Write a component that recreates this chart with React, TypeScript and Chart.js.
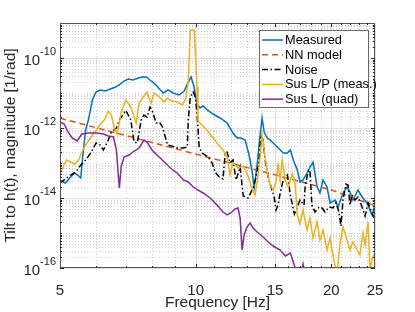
import React, { useEffect, useRef } from 'react';
import { Chart, registerables } from 'chart.js';

Chart.register(...registerables);

const FONT = '"Liberation Sans", Arial, Helvetica, sans-serif';
const AX = '#262626';

// ---- axis ticks ----
const xTickValues = [5, 10, 15, 20, 25];
const yTickValues = [1e-16, 1e-14, 1e-12, 1e-10];

// ---- series ----
const seriesLabels = ['Measured', 'NN model', 'Noise', 'Sus L/P (meas.)', 'Sus L (quad)'];

const measuredFreq = [5.00, 5.08, 5.14, 5.28, 5.39, 5.50, 5.56, 5.62, 5.70, 5.78, 5.90, 6.01, 6.14, 6.30, 6.47, 6.64, 6.81, 6.94, 7.08, 7.27, 7.46, 7.62, 7.77, 7.92, 8.13, 8.35, 8.48, 8.69, 8.91, 9.19, 9.43, 9.63, 9.77, 9.92, 10.07, 10.23, 10.39, 10.61, 10.93, 11.33, 11.74, 12.10, 12.36, 12.61, 12.87, 13.14, 13.35, 13.48, 13.69, 13.90, 14.04, 14.19, 14.41, 14.63, 15.17, 15.64, 15.98, 16.22, 16.47, 16.81, 17.04, 17.31, 17.66, 17.93, 18.22, 18.60, 18.87, 19.17, 19.57, 19.87, 20.39, 20.70, 21.23, 21.67, 22.00, 22.33, 22.92, 23.41, 24.00, 24.62, 25.00];
const measuredVal = [3.27e-14, 2.87e-14, 2.68e-14, 3.98e-14, 5.18e-14, 4.25e-14, 3.73e-14, 1.69e-13, 8.77e-13, 1.69e-12, 6.31e-12, 1.07e-11, 1.22e-11, 1.14e-11, 1.30e-11, 1.48e-11, 1.81e-11, 2.20e-11, 2.51e-11, 2.35e-11, 2.68e-11, 2.87e-11, 2.87e-11, 2.35e-11, 1.81e-11, 1.22e-11, 1.0e-11, 1.22e-11, 1.0e-11, 8.77e-12, 1.14e-11, 2.06e-11, 2.87e-11, 1.48e-11, 4.85e-12, 3.73e-12, 4.25e-12, 3.27e-12, 2.51e-12, 1.93e-12, 1.39e-12, 7.20e-13, 5.18e-13, 5.18e-13, 4.54e-13, 1.69e-13, 5.53e-14, 1.93e-14, 8.77e-14, 6.31e-13, 1.93e-12, 7.69e-13, 5.18e-13, 4.54e-13, 2.87e-13, 1.93e-13, 1.93e-13, 2.35e-13, 1.22e-13, 6.31e-14, 2.87e-14, 3.27e-14, 5.18e-14, 7.69e-14, 1.07e-13, 2.06e-14, 1.39e-14, 3.27e-14, 2.06e-14, 7.20e-15, 8.77e-15, 5.53e-15, 1.39e-14, 2.06e-14, 1.48e-14, 8.77e-15, 1.69e-14, 1.07e-14, 7.20e-15, 3.27e-15, 6.31e-15];

const nnFreq = [5, 7, 10, 15, 20, 25];
const nnVal = [1.9e-12, 6.1e-13, 1.8e-13, 4.6e-14, 1.7e-14, 6.0e-15];

const noiseFreq = [5.00, 5.14, 5.28, 5.42, 5.56, 5.70, 5.87, 6.01, 6.14, 6.24, 6.40, 6.50, 6.67, 6.77, 7.00, 7.18, 7.30, 7.42, 7.57, 7.68, 7.80, 7.92, 8.00, 8.17, 8.31, 8.44, 8.66, 8.84, 9.10, 9.39, 9.58, 9.63, 9.73, 9.88, 9.98, 10.07, 10.18, 10.34, 10.50, 10.66, 10.88, 11.04, 11.33, 11.50, 11.63, 11.74, 11.92, 12.10, 12.29, 12.55, 12.75, 13.07, 13.41, 13.62, 13.83, 13.97, 14.11, 14.26, 14.48, 14.70, 14.93, 15.08, 15.24, 15.40, 15.64, 15.98, 16.22, 16.56, 16.81, 17.04, 17.40, 17.49, 17.75, 17.93, 18.11, 18.40, 18.78, 19.07, 19.37, 19.77, 20.18, 20.49, 20.80, 21.01, 21.23, 21.55, 21.78, 22.00, 22.23, 22.57, 22.92, 23.41, 23.76, 24.13, 24.62, 25.00];
const noiseVal = [2.68e-14, 3.49e-14, 4.54e-14, 5.53e-14, 8.77e-14, 1.22e-13, 2.06e-13, 3.73e-13, 3.27e-13, 2.35e-13, 4.54e-13, 7.69e-13, 1.0e-12, 1.69e-12, 3.2e-12, 1.69e-12, 3.98e-13, 3.73e-13, 1.69e-12, 2.35e-12, 2.06e-12, 3.98e-12, 3.27e-12, 1.39e-12, 1.48e-12, 1.07e-12, 3.27e-13, 3.06e-13, 2.68e-13, 2.68e-13, 2.87e-13, 1.69e-12, 7.69e-12, 1.07e-11, 7.69e-12, 2.68e-12, 2.87e-13, 1.93e-13, 1.69e-13, 1.48e-13, 1.0e-13, 5.53e-14, 3.73e-14, 3.49e-14, 1.93e-13, 2.06e-13, 1.0e-13, 1.22e-13, 3.27e-14, 7.69e-14, 1.14e-14, 1.0e-14, 1.93e-14, 3.98e-14, 1.22e-13, 6.31e-13, 4.54e-13, 1.22e-13, 3.98e-14, 2.06e-14, 1.07e-14, 4.54e-15, 6.31e-15, 1.39e-14, 3.27e-14, 4.54e-14, 1.22e-14, 3.49e-15, 5.53e-15, 8.77e-15, 6.31e-15, 2.06e-14, 5.53e-14, 6.31e-14, 6.31e-15, 3.98e-15, 5.53e-15, 5.18e-15, 3.98e-15, 5.53e-15, 5.18e-15, 7.20e-15, 3.98e-15, 1.58e-15, 8.77e-15, 2.51e-14, 2.35e-14, 6.31e-15, 1.22e-14, 8.77e-15, 1.07e-14, 5.53e-15, 3.06e-15, 7.20e-15, 3.73e-15, 2.35e-15];

const susLPFreq = [5.00, 5.08, 5.17, 5.28, 5.39, 5.50, 5.59, 5.70, 5.84, 5.98, 6.14, 6.27, 6.40, 6.50, 6.60, 6.70, 6.84, 7.00, 7.18, 7.38, 7.49, 7.68, 7.80, 7.96, 8.09, 8.31, 8.52, 8.66, 8.84, 9.10, 9.34, 9.48, 9.63, 9.73, 9.93, 10.07, 10.12, 10.39, 10.77, 11.15, 11.50, 11.74, 11.92, 12.10, 12.42, 12.75, 13.07, 13.35, 13.55, 13.76, 13.90, 14.04, 14.19, 14.41, 14.63, 14.85, 15.08, 15.24, 15.40, 15.56, 15.81, 16.06, 16.39, 16.64, 16.81, 17.04, 17.31, 17.66, 17.93, 18.22, 18.60, 18.87, 19.17, 19.57, 19.87, 20.17, 20.57, 20.89, 21.23, 21.67, 22.00, 22.33, 22.80, 23.15, 23.52, 23.76, 24.13, 24.38, 24.62, 25.00];
const susLPVal = [4.54e-14, 7.69e-14, 1.22e-13, 1.07e-13, 9.36e-14, 1.22e-13, 2.06e-13, 3.27e-13, 5.18e-13, 7.69e-13, 1.30e-12, 1.69e-12, 3.06e-12, 2.35e-12, 1.0e-12, 6.74e-13, 2.87e-12, 6.31e-12, 3.98e-12, 1.39e-12, 5.18e-12, 8.21e-12, 1.07e-11, 5.18e-12, 1.0e-11, 7.69e-12, 5.53e-12, 7.20e-12, 5.91e-12, 5.53e-12, 4.54e-12, 6.31e-12, 2.06e-11, 6.31e-10, 6.31e-10, 1.48e-11, 1.58e-12, 1.14e-12, 6.74e-13, 3.73e-13, 2.35e-13, 1.48e-13, 4.54e-14, 1.0e-13, 7.20e-14, 8.21e-14, 4.25e-14, 1.81e-14, 1.22e-14, 4.54e-14, 1.48e-13, 6.31e-13, 2.35e-13, 5.53e-14, 2.35e-14, 1.69e-14, 2.87e-14, 8.77e-14, 3.27e-14, 1.22e-13, 3.27e-14, 2.06e-14, 4.85e-14, 2.35e-14, 3.27e-15, 1.81e-15, 4.54e-15, 1.22e-15, 2.68e-15, 7.20e-16, 2.06e-15, 6.31e-16, 1.22e-15, 3.27e-16, 7.20e-16, 2.35e-16, 6.31e-17, 4.54e-16, 1.48e-15, 6.31e-16, 3.27e-16, 5.53e-16, 3.27e-16, 2.35e-16, 1.0e-15, 4.54e-16, 2.06e-15, 7.69e-17, 1.93e-16, 2.68e-16];

const susLFreq = [5.00, 5.11, 5.21, 5.32, 5.46, 5.59, 5.78, 6.04, 6.24, 6.40, 6.57, 6.67, 6.77, 6.84, 6.94, 7.11, 7.31, 7.49, 7.68, 7.80, 8.00, 8.21, 8.52, 8.84, 9.10, 9.39, 9.63, 9.88, 10.12, 10.39, 10.77, 11.15, 11.50, 11.74, 11.97, 12.23, 12.42, 12.55, 12.68, 12.81, 13.00, 13.21, 13.41, 13.69, 14.04, 14.41, 14.85, 15.40, 15.81, 16.22, 16.47, 16.73, 17.04, 17.31, 17.57, 18.11, 19.87, 25.00];
const susLVal = [1.48e-12, 1.30e-12, 7.69e-13, 5.18e-13, 4.25e-13, 6.74e-13, 7.20e-13, 7.20e-13, 6.74e-13, 5.91e-13, 5.53e-13, 2.35e-13, 1.93e-14, 8.21e-14, 1.48e-13, 1.69e-13, 2.20e-13, 2.68e-13, 4.54e-13, 3.98e-13, 2.35e-13, 1.69e-13, 1.07e-13, 6.74e-14, 5.18e-14, 3.27e-14, 2.87e-14, 2.06e-14, 1.69e-14, 1.39e-14, 1.0e-14, 6.31e-15, 3.98e-15, 3.27e-15, 3.73e-15, 4.85e-15, 5.18e-15, 2.68e-15, 3.27e-16, 8.77e-16, 1.48e-15, 1.93e-15, 1.39e-15, 1.07e-15, 8.21e-16, 5.91e-16, 4.25e-16, 3.27e-16, 2.20e-16, 2.68e-16, 1.48e-16, 7.69e-17, 4.54e-17, 1.30e-16, 4.54e-17, 2.35e-17, 2.0e-17, 1.5e-17];

const seriesColors = ['#0072BD', '#D95319', '#000000', '#EDB120', '#7E2F8E'];
const seriesDashes: number[][] = [[], [6, 4], [6, 2.5, 1.5, 2.5], [], []];

function toPoints(f: number[], v: number[]) {
  return f.map((x, i) => ({ x, y: v[i] }));
}

const decorPlugin = {
  id: 'matlabDecor',
  beforeDatasetsDraw(chart: any) {
    const { ctx, chartArea: a, scales } = chart;
    const xs = scales.x;
    const ys = scales.y;
    ctx.save();
    ctx.lineWidth = 1;
    // minor grid (dotted)
    ctx.setLineDash([1, 2]);
    ctx.strokeStyle = '#d2d2d2';
    for (let f = 6; f < 25; f++) {
      if (xTickValues.includes(f)) continue;
      const px = Math.round(xs.getPixelForValue(f)) + 0.5;
      ctx.beginPath(); ctx.moveTo(px, a.top); ctx.lineTo(px, a.bottom); ctx.stroke();
    }
    for (let e = -16; e < -9; e++) {
      for (let m = 1; m < 10; m++) {
        const v = m * Math.pow(10, e);
        if (m === 1 && yTickValues.some((t) => Math.abs(t - v) / v < 1e-6)) continue;
        const py = Math.round(ys.getPixelForValue(v)) + 0.5;
        ctx.beginPath(); ctx.moveTo(a.left, py); ctx.lineTo(a.right, py); ctx.stroke();
      }
    }
    // major grid
    ctx.setLineDash([]);
    ctx.strokeStyle = '#e2e2e2';
    for (const f of xTickValues) {
      const px = Math.round(xs.getPixelForValue(f)) + 0.5;
      ctx.beginPath(); ctx.moveTo(px, a.top); ctx.lineTo(px, a.bottom); ctx.stroke();
    }
    for (const v of yTickValues) {
      const py = Math.round(ys.getPixelForValue(v)) + 0.5;
      ctx.beginPath(); ctx.moveTo(a.left, py); ctx.lineTo(a.right, py); ctx.stroke();
    }
    ctx.restore();
  },
  afterDraw(chart: any) {
    const { ctx, chartArea: a, scales } = chart;
    const xs = scales.x;
    const ys = scales.y;
    ctx.save();
    // axes box
    ctx.strokeStyle = '#555555';
    ctx.lineWidth = 1;
    ctx.strokeRect(Math.round(a.left) + 0.5, Math.round(a.top) + 0.5, Math.round(a.right - a.left) - 1, Math.round(a.bottom - a.top) - 1);
    // inward ticks
    ctx.strokeStyle = AX;
    for (let f = 6; f < 25; f++) {
      const major = xTickValues.includes(f);
      const L = major ? 4 : 2;
      const px = Math.round(xs.getPixelForValue(f)) + 0.5;
      ctx.beginPath();
      ctx.moveTo(px, a.bottom); ctx.lineTo(px, a.bottom - L);
      ctx.moveTo(px, a.top); ctx.lineTo(px, a.top + L);
      ctx.stroke();
    }
    for (let e = -16; e < -9; e++) {
      for (let m = 1; m < 10; m++) {
        const v = m * Math.pow(10, e);
        const major = m === 1 && yTickValues.some((t) => Math.abs(t - v) / v < 1e-6);
        const L = major ? 4 : 2;
        const py = Math.round(ys.getPixelForValue(v)) + 0.5;
        ctx.beginPath();
        ctx.moveTo(a.left, py); ctx.lineTo(a.left + L, py);
        ctx.moveTo(a.right, py); ctx.lineTo(a.right - L, py);
        ctx.stroke();
      }
    }
    // y tick labels: 10^n
    ctx.fillStyle = AX;
    ctx.textBaseline = 'middle';
    ctx.textAlign = 'right';
    for (const v of yTickValues) {
      const py = ys.getPixelForValue(v);
      const expText = String(Math.round(Math.log10(v)));
      const right = a.left - 4;
      ctx.font = `11px ${FONT}`;
      const ew = ctx.measureText(expText).width;
      ctx.fillText(expText, right, py - 6);
      ctx.font = `15px ${FONT}`;
      ctx.fillText('10', right - ew, py + 3);
    }
    // legend
    const lw = 109;
    const lh = 77;
    const lx = Math.round(a.right) - 7 - lw;
    const ly = Math.round(a.top) + 7;
    ctx.fillStyle = '#ffffff';
    ctx.fillRect(lx, ly, lw, lh);
    ctx.strokeStyle = '#6a6a6a';
    ctx.lineWidth = 1;
    ctx.strokeRect(lx + 0.5, ly + 0.5, lw, lh);
    ctx.textAlign = 'left';
    ctx.font = `12.8px ${FONT}`;
    chart.data.datasets.forEach((ds: any, i: number) => {
      const ry = ly + 10 + i * 14.8;
      ctx.save();
      ctx.strokeStyle = ds.borderColor;
      ctx.lineWidth = 1.5;
      ctx.setLineDash(ds.borderDash || []);
      ctx.beginPath(); ctx.moveTo(lx + 3, ry); ctx.lineTo(lx + 24, ry); ctx.stroke();
      ctx.restore();
      ctx.fillStyle = '#000000';
      ctx.fillText(ds.label, lx + 26, ry + 0.5);
    });
    ctx.restore();
  },
};

export default function App() {
  const ref = useRef<HTMLCanvasElement | null>(null);
  useEffect(() => {
    const canvas = ref.current;
    if (!canvas) return;
    const freqs = [measuredFreq, nnFreq, noiseFreq, susLPFreq, susLFreq];
    const vals = [measuredVal, nnVal, noiseVal, susLPVal, susLVal];
    const chart = new Chart(canvas, {
      type: 'line',
      data: {
        datasets: seriesLabels.map((label, i) => ({
          label,
          data: toPoints(freqs[i], vals[i]),
          borderColor: seriesColors[i],
          backgroundColor: seriesColors[i],
          borderDash: seriesDashes[i],
          borderWidth: 1.5,
          pointRadius: 0,
          tension: 0,
          fill: false,
          clip: 0,
          order: 5 - i,
        })),
      },
      options: {
        responsive: false,
        animation: false,
        events: [],
        layout: { padding: { top: 23, right: 40, left: 0, bottom: 0 } },
        plugins: { legend: { display: false }, tooltip: { enabled: false } },
        scales: {
          x: {
            type: 'logarithmic',
            min: 5,
            max: 25,
            grid: { display: false },
            border: { display: false },
            afterBuildTicks: (s: any) => { s.ticks = xTickValues.map((v) => ({ value: v })); },
            afterFit: (s: any) => { s.height = 44; },
            ticks: {
              font: { family: FONT, size: 15 },
              color: AX,
              padding: 6,
              maxRotation: 0,
              autoSkip: false,
              callback: (v: any) => String(v),
            },
            title: {
              display: true,
              text: 'Frequency [Hz]',
              font: { family: FONT, size: 15.5 },
              color: AX,
              padding: 0,
            },
          },
          y: {
            type: 'logarithmic',
            min: 1e-16,
            max: 1e-9,
            grid: { display: false },
            border: { display: false },
            afterBuildTicks: (s: any) => { s.ticks = yTickValues.map((v) => ({ value: v })); },
            afterFit: (s: any) => { s.width = 60; },
            ticks: { display: false },
            title: {
              display: true,
              text: 'Tilt to h(t), magnitude [1/rad]',
              font: { family: FONT, size: 15.5 },
              color: AX,
              padding: { top: 1, bottom: 0 },
            },
          },
        },
      } as any,
      plugins: [decorPlugin],
    });
    return () => chart.destroy();
  }, []);
  return (
    <div style={{ position: 'fixed', left: 0, top: 0, width: 415, height: 312, background: '#fff' }}>
      <canvas ref={ref} width={415} height={312} style={{ display: 'block' }} />
    </div>
  );
}
